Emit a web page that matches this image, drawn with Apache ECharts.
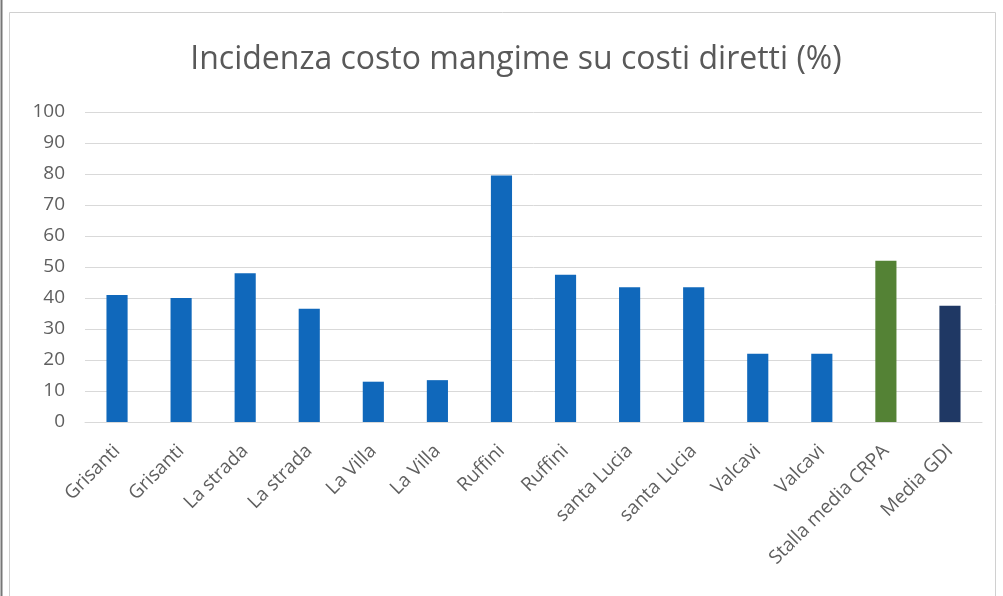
<!DOCTYPE html>
<html>
<head>
<meta charset="utf-8">
<script src="https://cdn.jsdelivr.net/npm/echarts@6/dist/echarts.min.js"></script>
<style>
html,body{margin:0;padding:0;background:#fff;}
#chart{width:1003px;height:596px;}
</style>
</head>
<body>
<div id="chart"></div>
<script>
const titleText = 'Incidenza costo mangime su costi diretti (%)';
const categories = ['Grisanti','Grisanti','La strada','La strada','La Villa','La Villa','Ruffini','Ruffini','santa Lucia','santa Lucia','Valcavi','Valcavi','Stalla media CRPA','Media GDI'];
const values = [41, 40, 48, 36.5, 13, 13.5, 79.5, 47.5, 43.5, 43.5, 22, 22, 52, 37.5];
const barColors = ['#1068bb','#1068bb','#1068bb','#1068bb','#1068bb','#1068bb','#1068bb','#1068bb','#1068bb','#1068bb','#1068bb','#1068bb','#548235','#1f3864'];
const yTicks = [0,10,20,30,40,50,60,70,80,90,100];

const chart = echarts.init(document.getElementById('chart'), null, {renderer:'canvas'});
chart.setOption({
  backgroundColor:'#fff',
  animation:false,
  title:{
    text:titleText, left:511, top:39, textAlign:'center',
    textStyle:{fontFamily:'Open Sans', fontSize:32, fontWeight:'normal', color:'#595959'}
  },
  graphic:[
    {type:'rect', shape:{x:9.5,y:12.5,width:986,height:600}, style:{fill:'none', stroke:'#d0d0d0', lineWidth:1}},
    {type:'line', shape:{x1:1.5,y1:0,x2:1.5,y2:596}, style:{stroke:'#777', lineWidth:2}}
  ],
  grid:{left:85, right:21, top:112, bottom:174},
  xAxis:{
    type:'category', data:categories,
    axisLine:{lineStyle:{color:'#d9d9d9'}},
    axisTick:{show:false},
    axisLabel:{interval:0, rotate:45, margin:26, fontFamily:'Open Sans', fontSize:19, color:'#5f5f5f'}
  },
  yAxis:{
    type:'value', min:yTicks[0], max:yTicks[yTicks.length-1], interval:10,
    axisLine:{show:false}, axisTick:{show:false},
    splitLine:{lineStyle:{color:'#d9d9d9'}},
    axisLabel:{margin:20, fontFamily:'Open Sans', fontSize:19, color:'#5f5f5f'}
  },
  series:[{
    type:'bar', barWidth:'33%',
    data: values.map((v,i)=>({value:v, itemStyle:{color:barColors[i]}}))
  }]
});
</script>
</body>
</html>
